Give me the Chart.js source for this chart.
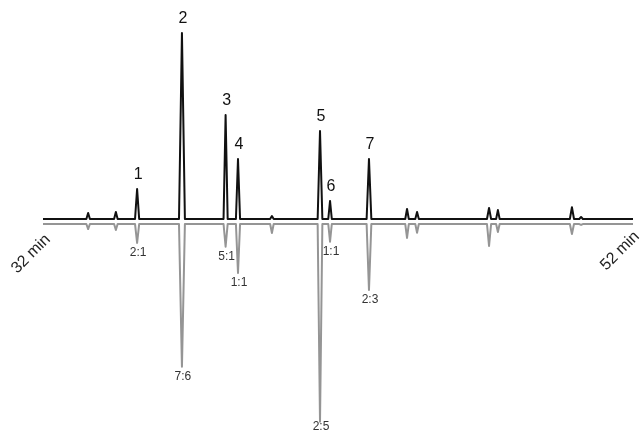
<!DOCTYPE html>
<html>
<head>
<meta charset="utf-8">
<script src="https://cdn.jsdelivr.net/npm/chart.js@4"></script>
<style>
  html, body { margin: 0; padding: 0; background: #fff; }
  #wrap { width: 640px; height: 433px; }
</style>
</head>
<body>
<div id="wrap"><canvas id="cromatograma"></canvas></div>
<script>
// retention time (min) of each peak
const tiempos = [33.53, 34.47, 35.19, 36.71, 38.19, 38.61, 39.76, 41.39, 41.73, 43.05, 44.34, 44.68, 47.12, 47.42, 49.93, 50.24];
// upper trace (relative intensity)
const alturasArriba = [3.2, 3.8, 16.1, 100, 55.9, 32.3, 1.6, 47.3, 9.7, 32.3, 5.4, 3.8, 5.9, 4.8, 6.3, 1.1];
// lower mirrored trace (relative intensity)
const alturasAbajo = [2.7, 3.2, 10.2, 76.7, 12.2, 26.3, 4.8, 106.3, 9.5, 35.5, 7.5, 4.7, 11.8, 4.3, 5.4, 0.5];
// half width of each peak at the base (min)
const anchos = [0.06, 0.06, 0.07, 0.1, 0.07, 0.07, 0.06, 0.08, 0.06, 0.08, 0.06, 0.06, 0.07, 0.06, 0.07, 0.06];
const numeros = ["", "", "1", "2", "3", "4", "", "5", "6", "7", "", "", "", "", "", ""];
const razones = ["", "", "2:1", "7:6", "5:1", "1:1", "", "2:5", "1:1", "2:3", "", "", "", "", "", ""];
const inicio = 32;
const fin = 52;
const etiquetaInicio = "32 min";
const etiquetaFin = "52 min";

const separacion = 2.7; // gap between the two baselines

function armarTraza(alturas, signo, base) {
  const pts = [{ x: inicio, y: base }];
  tiempos.forEach((t, i) => {
    pts.push({ x: t - anchos[i], y: base });
    pts.push({ x: t, y: base + signo * alturas[i] });
    pts.push({ x: t + anchos[i], y: base });
  });
  pts.push({ x: fin, y: base });
  return pts;
}

const etiquetas = {
  id: "etiquetas",
  afterDatasetsDraw(chart) {
    const c = chart.ctx;
    const sx = chart.scales.x;
    const sy = chart.scales.y;
    c.save();
    c.textAlign = "center";
    c.textBaseline = "middle";

    c.fillStyle = "#111";
    c.font = "16px 'Liberation Sans', Arial, sans-serif";
    tiempos.forEach((t, i) => {
      if (!numeros[i]) return;
      const px = sx.getPixelForValue(t);
      const py = sy.getPixelForValue(alturasArriba[i]);
      c.fillText(numeros[i], px + 1, py - 14);
    });

    c.fillStyle = "#333";
    c.font = "12px 'Liberation Sans', Arial, sans-serif";
    tiempos.forEach((t, i) => {
      if (!razones[i]) return;
      const px = sx.getPixelForValue(t);
      const py = sy.getPixelForValue(-separacion - alturasAbajo[i]);
      c.fillText(razones[i], px + 1, Math.min(py + 10, 427));
    });

    c.fillStyle = "#222";
    c.font = "16px 'Liberation Sans', Arial, sans-serif";
    const yb = sy.getPixelForValue(0);
    [[etiquetaInicio, sx.getPixelForValue(inicio) - 12, yb + 35],
     [etiquetaFin, sx.getPixelForValue(fin) - 13, yb + 32]].forEach(([txt, x, y]) => {
      c.save();
      c.translate(x, y);
      c.rotate(-Math.PI / 4);
      c.fillText(txt, 0, 0);
      c.restore();
    });
    c.restore();
  }
};

const ctx = document.getElementById("cromatograma").getContext("2d");

new Chart(ctx, {
  type: "line",
  data: {
    datasets: [{
      label: "abajo",
      data: armarTraza(alturasAbajo, -1, -separacion),
      borderColor: "#959595",
      borderWidth: 2,
      pointRadius: 0,
      tension: 0,
      borderJoinStyle: "round"
    }, {
      label: "arriba",
      data: armarTraza(alturasArriba, 1, 0),
      borderColor: "#111",
      borderWidth: 2,
      pointRadius: 0,
      tension: 0,
      borderJoinStyle: "round"
    }]
  },
  options: {
    responsive: true,
    maintainAspectRatio: false,
    animation: false,
    layout: { padding: { left: 43, right: 7, top: 0, bottom: 0 } },
    plugins: {
      legend: { display: false },
      tooltip: { enabled: false }
    },
    scales: {
      x: { type: "linear", min: inicio, max: fin, display: false },
      y: { min: -115.05, max: 117.74, display: false }
    }
  },
  plugins: [etiquetas]
});
</script>
</body>
</html>
